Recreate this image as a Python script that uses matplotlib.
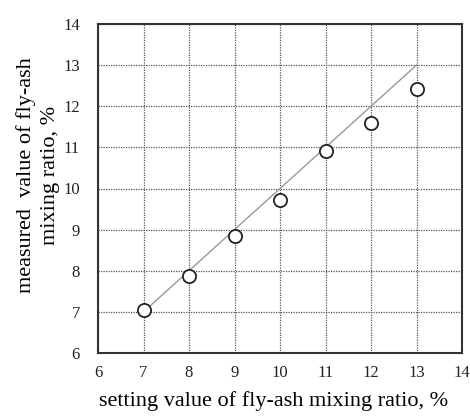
import numpy as np
import matplotlib.pyplot as plt

plt.rcParams['font.family'] = ['Liberation Serif', 'DejaVu Serif']

# setting value vs measured value of fly-ash mixing ratio
setting = [7, 8, 9, 10, 11, 12, 13]
measured = [7.05, 7.87, 8.85, 9.72, 10.9, 11.6, 12.42]
line_x = [7, 13]
line_y = [7, 13]

fig = plt.figure(figsize=(4.70, 4.17), dpi=100)
ax = fig.add_axes([98/470, 1 - 353/417, 364/470, 329/417])

ax.plot(line_x, line_y, color='#999999', lw=1.0, zorder=2)
ax.plot(setting, measured, 'o', ms=9.5, mfc='white', mec='#222222', mew=1.3, zorder=3)

ax.set_xlim(6, 14)
ax.set_ylim(6, 14)
ax.set_xticks(np.arange(6, 15, 1))
ax.set_yticks(np.arange(6, 15, 1))
ax.grid(True, ls=(0, (1, 1)), color='#555555', lw=0.9)
ax.tick_params(length=0, labelsize=12, colors='#222222')
ax.tick_params(axis='x', pad=8.5)
ax.tick_params(axis='y', pad=13)
for s in ax.spines.values():
	s.set_linewidth(1.5)
	s.set_color('#333333')

ax.set_xlabel('setting value of fly-ash mixing ratio, %', fontsize=16)
ax.set_ylabel('measured  value of fly-ash\nmixing ratio, %', fontsize=16, linespacing=1.35)
ax.xaxis.set_label_coords(0.4835, -0.115)
ax.yaxis.set_label_coords(-0.105, 0.54)

plt.savefig('out.png', dpi=100)
